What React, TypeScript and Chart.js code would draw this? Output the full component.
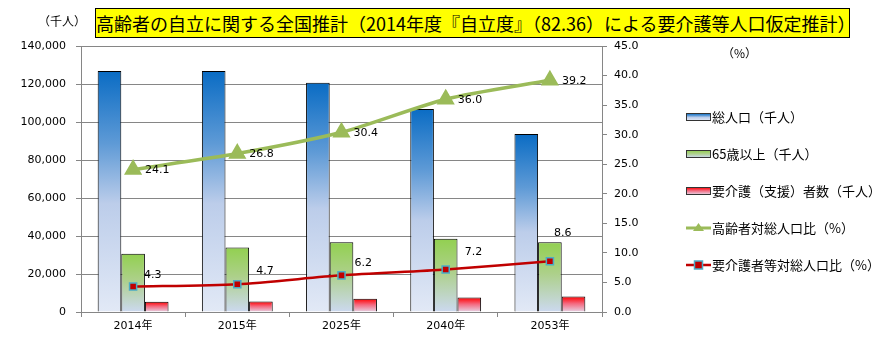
import React, { useEffect, useRef } from "react";
import { Chart, registerables } from "chart.js";

Chart.register(...registerables);

const categories = ["2014年", "2015年", "2025年", "2040年", "2053年"];
const totalPop = [126800, 126800, 120600, 106900, 93700];
const elderly = [30600, 33900, 36700, 38600, 36700];
const careNeeded = [5400, 5500, 7000, 7600, 8100];
const elderlyRatio = [24.1, 26.8, 30.4, 36.0, 39.2];
const careRatio = [4.3, 4.7, 6.2, 7.2, 8.6];

const seriesNames = [
  "総人口（千人）",
  "65歳以上（千人）",
  "要介護（支援）者数（千人）",
  "高齢者対総人口比（%）",
  "要介護者等対総人口比（%）",
];

const leftTicksMax = 140000;
const rightTicksMax = 45;

// label offsets for the care-ratio series (manually placed in the original)
const careLabelOffsets = [
  [11, -11],
  [19, -13],
  [13, -12],
  [19, -17],
  [4, -28],
];

const gradStops: [number, string][][] = [
  [
    [0, "#0a6cc4"],
    [0.3, "#5e9ad6"],
    [0.55, "#bccdea"],
    [1, "#e2e9f6"],
  ],
  [
    [0, "#92d050"],
    [0.45, "#add08a"],
    [1, "#ccd9f0"],
  ],
  [
    [0, "#ff0000"],
    [0.45, "#f4687e"],
    [1, "#e6d4e6"],
  ],
];

function makeGrad(ctx: CanvasRenderingContext2D, top: number, bottom: number, idx: number) {
  const g = ctx.createLinearGradient(0, top, 0, bottom);
  gradStops[idx].forEach(([p, c]) => g.addColorStop(p, c));
  return g;
}

const FONT_NUM = "'DejaVu Sans', 'Noto Sans CJK JP', sans-serif";
const FONT_JP = "'Noto Sans CJK JP', sans-serif";

export default function App() {
  const ref = useRef<HTMLCanvasElement | null>(null);

  useEffect(() => {
    document.body.style.margin = "0";
    const canvas = ref.current!;
    const barBg = (idx: number) => (c: any) => {
      const chart = c.chart;
      const area = chart.chartArea;
      if (!area || c.type !== "data") return gradStops[idx][1][1];
      const y = chart.scales.y;
      const top = y.getPixelForValue(c.raw);
      const bottom = y.getPixelForValue(0);
      return makeGrad(chart.ctx, top, bottom, idx);
    };

    const labelPlugin = {
      id: "valueLabels",
      afterDatasetsDraw(chart: any) {
        const ctx = chart.ctx;
        ctx.save();
        ctx.font = "11px " + FONT_NUM;
        ctx.fillStyle = "#000";
        ctx.textAlign = "left";
        ctx.textBaseline = "middle";
        const m0 = chart.getDatasetMeta(0);
        m0.data.forEach((p: any, i: number) => {
          ctx.fillText(elderlyRatio[i].toFixed(1), p.x + 12, p.y + 1);
        });
        const m1 = chart.getDatasetMeta(1);
        m1.data.forEach((p: any, i: number) => {
          const o = careLabelOffsets[i];
          ctx.fillText(careRatio[i].toFixed(1), p.x + o[0], p.y + o[1]);
        });
        ctx.restore();
      },
    };

    const legendPlugin = {
      id: "customLegend",
      afterDraw(chart: any) {
        const ctx = chart.ctx;
        const area = chart.chartArea;
        const x0 = area.right + 84;
        const y0 = area.top + 71;
        const gap = 37;
        ctx.save();
        ctx.font = "13px " + FONT_JP;
        ctx.textBaseline = "middle";
        ctx.textAlign = "left";
        seriesNames.forEach((name, i) => {
          const y = y0 + gap * i;
          if (i < 3) {
            ctx.fillStyle = makeGrad(ctx, y - 3.5, y + 3.5, i);
            ctx.fillRect(x0, y - 3.5, 24, 7);
            ctx.strokeStyle = "#333";
            ctx.lineWidth = 1;
            ctx.strokeRect(x0 + 0.5, y - 3.5, 24, 7);
          } else if (i === 3) {
            ctx.strokeStyle = "#9bbb59";
            ctx.lineWidth = 3;
            ctx.beginPath();
            ctx.moveTo(x0, y);
            ctx.lineTo(x0 + 25, y);
            ctx.stroke();
            ctx.fillStyle = "#9bbb59";
            ctx.beginPath();
            ctx.moveTo(x0 + 12.5, y - 5);
            ctx.lineTo(x0 + 18, y + 3);
            ctx.lineTo(x0 + 7, y + 3);
            ctx.closePath();
            ctx.fill();
          } else {
            ctx.strokeStyle = "#c00000";
            ctx.lineWidth = 2.5;
            ctx.beginPath();
            ctx.moveTo(x0, y);
            ctx.lineTo(x0 + 25, y);
            ctx.stroke();
            ctx.fillStyle = "#c00000";
            ctx.fillRect(x0 + 8.5, y - 4, 8, 8);
            ctx.strokeStyle = "#4bacc6";
            ctx.lineWidth = 1.5;
            ctx.strokeRect(x0 + 8.5, y - 4, 8, 8);
          }
          ctx.fillStyle = "#000";
          ctx.fillText(name, x0 + 26, y);
        });
        ctx.restore();
      },
    };

    const chart = new Chart(canvas, {
      type: "bar",
      data: {
        labels: categories,
        datasets: [
          {
            type: "line",
            label: seriesNames[3],
            data: elderlyRatio,
            yAxisID: "y1",
            borderColor: "#9bbb59",
            backgroundColor: "#9bbb59",
            borderWidth: 3.5,
            pointStyle: "triangle",
            pointRadius: 7,
            pointBackgroundColor: "#9bbb59",
            pointBorderColor: "#9bbb59",
            tension: 0.25,
            order: 0,
          } as any,
          {
            type: "line",
            label: seriesNames[4],
            data: careRatio,
            yAxisID: "y1",
            borderColor: "#c00000",
            backgroundColor: "#c00000",
            borderWidth: 2.5,
            pointStyle: "rect",
            pointRadius: 5,
            pointBackgroundColor: "#c00000",
            pointBorderColor: "#4bacc6",
            pointBorderWidth: 1.5,
            tension: 0.25,
            order: 0,
          } as any,
          {
            label: seriesNames[0],
            data: totalPop,
            yAxisID: "y",
            backgroundColor: barBg(0),
            borderColor: "#000",
            borderWidth: 1,
            order: 1,
          },
          {
            label: seriesNames[1],
            data: elderly,
            yAxisID: "y",
            backgroundColor: barBg(1),
            borderColor: "#000",
            borderWidth: 1,
            order: 1,
          },
          {
            label: seriesNames[2],
            data: careNeeded,
            yAxisID: "y",
            backgroundColor: barBg(2),
            borderColor: "#000",
            borderWidth: 1,
            order: 1,
          },
        ],
      },
      options: {
        animation: false,
        responsive: false,
        maintainAspectRatio: false,
        devicePixelRatio: 1,
        datasets: {
          bar: { categoryPercentage: 0.68, barPercentage: 1.0 },
        },
        layout: { padding: { left: 0, right: 224, top: 46, bottom: 0 } },
        plugins: {
          legend: { display: false },
          tooltip: { enabled: false },
          title: { display: false },
        },
        scales: {
          x: {
            grid: {
              offset: true,
              drawOnChartArea: false,
              drawTicks: true,
              tickLength: 5,
              color: "#868686",
            },
            border: { color: "#868686" },
            ticks: {
              color: "#000",
              font: { family: FONT_NUM, size: 11 },
              padding: 3,
            },
            afterFit(s: any) {
              s.height = 38;
            },
          },
          y: {
            position: "left",
            min: 0,
            max: leftTicksMax,
            ticks: {
              stepSize: 20000,
              color: "#000",
              font: { family: FONT_NUM, size: 11 },
              padding: 10,
              callback: (v: any) => Number(v).toLocaleString("en-US"),
            },
            grid: { color: "#868686", tickLength: 5 },
            border: { color: "#868686" },
            afterFit(s: any) {
              s.width = 81;
            },
          },
          y1: {
            position: "right",
            min: 0,
            max: rightTicksMax,
            ticks: {
              stepSize: 5,
              color: "#000",
              font: { family: FONT_NUM, size: 11 },
              padding: 7,
              callback: (v: any) => Number(v).toFixed(1),
            },
            grid: { drawOnChartArea: false, color: "#868686", tickLength: 5 },
            border: { color: "#868686" },
            afterFit(s: any) {
              s.width = 60;
            },
          },
        },
      },
      plugins: [labelPlugin, legendPlugin],
    });
    return () => chart.destroy();
  }, []);

  return (
    <div style={{ position: "relative", width: 886, height: 350, background: "#fff" }}>
      <canvas ref={ref} width={886} height={350} style={{ display: "block" }} />
      <div
        style={{
          position: "absolute",
          left: 95,
          top: 8,
          width: 753,
          height: 28,
          background: "#ffff00",
          border: "1px solid #000",
          fontFamily: FONT_JP,
          fontSize: 18,
          lineHeight: "28px",
          textAlign: "center",
          whiteSpace: "nowrap",
          color: "#000",
          overflow: "hidden",
        }}
      >
        高齢者の自立に関する全国推計（2014年度『自立度』（82.36）による要介護等人口仮定推計）
      </div>
      <div
        style={{
          position: "absolute",
          left: 38,
          top: 12,
          fontFamily: FONT_JP,
          fontSize: 12,
          color: "#000",
          whiteSpace: "nowrap",
        }}
      >
        （千人）
      </div>
      <div
        style={{
          position: "absolute",
          left: 722,
          top: 44,
          fontFamily: FONT_JP,
          fontSize: 12,
          color: "#000",
          whiteSpace: "nowrap",
        }}
      >
        （%）
      </div>
    </div>
  );
}
